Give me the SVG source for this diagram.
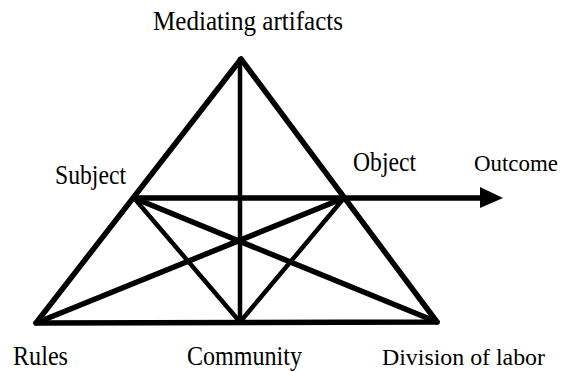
<svg xmlns="http://www.w3.org/2000/svg" width="563" height="372" viewBox="0 0 563 372">
<style>
  .ln { stroke: #000; stroke-width: 5.5; stroke-linecap: round; stroke-linejoin: round; fill: none; }
  .thin { stroke-width: 4.5; }
</style>
<rect width="563" height="372" fill="#fff"/>
<g id="connectors">
  <polygon class="ln" points="241,59 36,323 437,322"/>
  <line class="ln thin" x1="240" y1="59" x2="240" y2="322"/>
  <line class="ln" x1="134" y1="198" x2="482" y2="198"/>
  <polygon points="480,187 503,198 480,208" fill="#000"/>
  <line class="ln thin" x1="134" y1="198" x2="240" y2="322"/>
  <line class="ln thin" x1="344" y1="198" x2="240" y2="322"/>
  <line class="ln" x1="134" y1="198" x2="437" y2="322"/>
  <line class="ln" x1="344" y1="198" x2="36" y2="323"/>
</g>
<g font-family="'Liberation Serif', 'Times New Roman', serif" font-size="27" fill="#000">
<g id="mediating"><text x="153" y="30" textLength="190" lengthAdjust="spacingAndGlyphs">Mediating artifacts</text></g>
<g id="subject"><text x="55" y="184" textLength="71" lengthAdjust="spacingAndGlyphs">Subject</text></g>
<g id="object"><text x="353" y="171" textLength="63" lengthAdjust="spacingAndGlyphs">Object</text></g>
<g id="outcome"><text x="474" y="171" font-size="24" textLength="84" lengthAdjust="spacingAndGlyphs">Outcome</text></g>
<g id="rules"><text x="13" y="365" textLength="55" lengthAdjust="spacingAndGlyphs">Rules</text></g>
<g id="community"><text x="187" y="365" textLength="115" lengthAdjust="spacingAndGlyphs">Community</text></g>
<g id="division"><text x="382" y="365" font-size="24" textLength="163" lengthAdjust="spacingAndGlyphs">Division of labor</text></g>
</g>
</svg>
